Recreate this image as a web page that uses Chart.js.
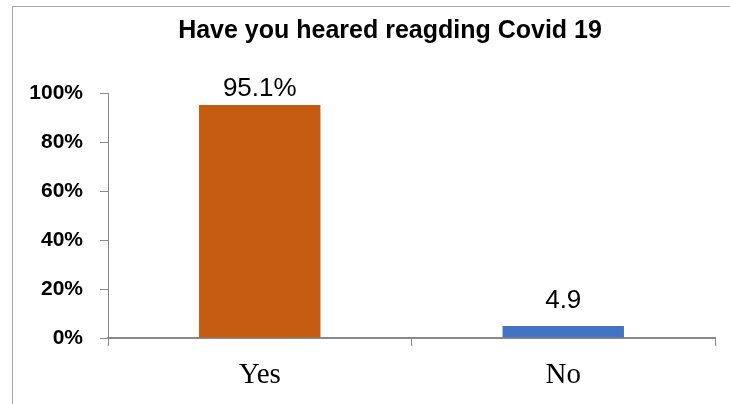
<!DOCTYPE html>
<html>
<head>
<meta charset="utf-8">
<script src="https://cdn.jsdelivr.net/npm/chart.js@4"></script>
<style>
  html, body { margin: 0; padding: 0; background: #fff; overflow: hidden; }
  #wrap { position: relative; width: 730px; height: 404px; }
  #frame { position: absolute; left: 12px; top: 6px; width: 800px; height: 500px; border: 1px solid #a6a6a6; }
  canvas { position: absolute; left: 0; top: 0; }
</style>
</head>
<body>
<div id="wrap">
  <div id="frame"></div>
  <canvas id="chart" width="730" height="404"></canvas>
</div>
<script>
const categories = ['Yes', 'No'];
const values = [95.1, 4.9];
const valueLabels = ['95.1%', '4.9'];
const barColors = ['#C55A11', '#4472C4'];
const tickLabels = ['0%', '20%', '40%', '60%', '80%', '100%'];

// draws the text over each bar
const barLabels = {
  id: 'barLabels',
  afterDatasetsDraw(chart) {
    const ctx = chart.ctx;
    const offsets = [9, 18];
    ctx.save();
    ctx.font = '26px "Liberation Sans", Arial, sans-serif';
    ctx.fillStyle = '#000';
    ctx.textAlign = 'center';
    ctx.textBaseline = 'alphabetic';
    chart.getDatasetMeta(0).data.forEach((bar, i) => {
      ctx.fillText(valueLabels[i], bar.x, bar.y - offsets[i]);
    });
    ctx.restore();
  }
};

// the original title sits a bit right of the canvas centre
const shiftTitle = {
  id: 'shiftTitle',
  afterLayout(chart) {
    if (chart.titleBlock) chart.titleBlock.left += 65;
  }
};

new Chart(document.getElementById('chart').getContext('2d'), {
  type: 'bar',
  data: {
    labels: categories,
    datasets: [{
      data: values,
      backgroundColor: barColors,
      borderWidth: 0,
      barPercentage: 0.4,
      categoryPercentage: 1
    }]
  },
  options: {
    responsive: false,
    animation: false,
    events: [],
    layout: { padding: { left: 0, right: 15, top: 0, bottom: 0 } },
    plugins: {
      legend: { display: false },
      tooltip: { enabled: false },
      title: {
        display: true,
        text: 'Have you heared reagding Covid 19',
        color: '#000',
        font: { family: '"Liberation Sans", Arial, sans-serif', size: 25, weight: 'bold' },
        padding: { top: 16, bottom: 47 }
      }
    },
    scales: {
      x: {
        afterFit: s => { s.height = 66; },
        border: { display: true, color: '#898989', width: 2 },
        grid: { offset: true, drawOnChartArea: false, drawTicks: true, tickLength: 8, color: '#898989' },
        ticks: {
          color: '#000',
          padding: 12,
          font: { family: '"Liberation Serif", "Times New Roman", serif', size: 29 }
        }
      },
      y: {
        min: 0,
        max: 100,
        afterFit: s => { s.width = 108; },
        border: { display: true, color: '#898989', width: 1 },
        grid: { drawOnChartArea: false, drawTicks: true, tickLength: 8, color: '#898989' },
        ticks: {
          stepSize: 20,
          color: '#000',
          padding: 17,
          font: { family: '"Liberation Sans", Arial, sans-serif', size: 21, weight: 'bold' },
          callback: (v) => tickLabels[Math.round(v / 20)]
        }
      }
    }
  },
  plugins: [barLabels, shiftTitle]
});
</script>
</body>
</html>
